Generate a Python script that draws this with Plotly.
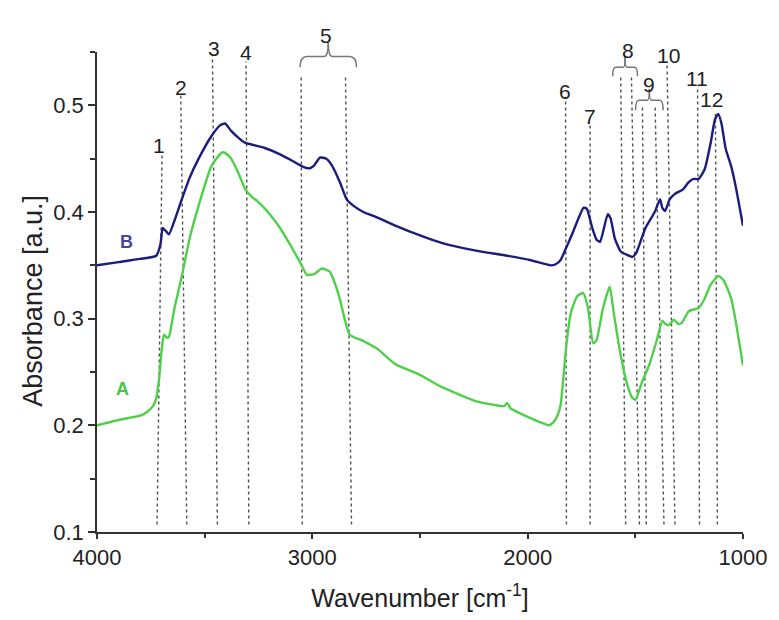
import plotly.graph_objects as go

# ---------------- data ----------------
wn_B = [4000, 3900, 3800, 3725, 3705, 3695, 3680, 3666, 3640, 3606, 3570, 3528, 3469, 3430, 3405,
        3377, 3340, 3313, 3221, 3160, 3102, 3040, 3011, 2990, 2965, 2935, 2910, 2870, 2841, 2810,
        2763, 2700, 2612, 2500, 2400, 2246, 2095, 1990, 1893, 1870, 1847, 1820, 1788, 1760, 1740,
        1725, 1700, 1680, 1664, 1648, 1628, 1615, 1595, 1568, 1540, 1513, 1495, 1453, 1410, 1385,
        1375, 1362, 1340, 1316, 1280, 1252, 1230, 1206, 1178, 1150, 1130, 1115, 1100, 1080, 1055,
        1030, 1000]
abs_B = [0.350, 0.353, 0.356, 0.359, 0.370, 0.385, 0.382, 0.379, 0.392, 0.412, 0.432, 0.450, 0.471, 0.481, 0.483,
         0.476, 0.469, 0.465, 0.460, 0.455, 0.449, 0.442, 0.441, 0.444, 0.451, 0.450, 0.444, 0.427, 0.412, 0.406,
         0.400, 0.395, 0.387, 0.378, 0.371, 0.364, 0.359, 0.355, 0.350, 0.351, 0.355, 0.367, 0.382, 0.396, 0.404,
         0.403, 0.385, 0.374, 0.372, 0.383, 0.398, 0.394, 0.375, 0.363, 0.360, 0.358, 0.362, 0.385, 0.400, 0.412,
         0.404, 0.401, 0.412, 0.417, 0.421, 0.428, 0.431, 0.431, 0.440, 0.465, 0.487, 0.492, 0.483, 0.459, 0.443,
         0.420, 0.387]

wn_A = [4000, 3900, 3800, 3771, 3740, 3725, 3711, 3700, 3689, 3675, 3666, 3640, 3606, 3570, 3528,
        3469, 3430, 3414, 3390, 3377, 3340, 3313, 3280, 3254, 3194, 3150, 3102, 3060, 3025, 2990,
        2956, 2919, 2895, 2873, 2850, 2827, 2763, 2700, 2612, 2507, 2400, 2246, 2150, 2110, 2095,
        2080, 2063, 2000, 1930, 1902, 1880, 1860, 1847, 1820, 1800, 1770, 1742, 1720, 1696, 1680,
        1650, 1619, 1600, 1570, 1540, 1515, 1499, 1470, 1435, 1400, 1375, 1360, 1344, 1321, 1300,
        1284, 1252, 1206, 1180, 1150, 1115, 1090, 1055, 1030, 1000]
abs_A = [0.200, 0.205, 0.209, 0.212, 0.218, 0.225, 0.245, 0.270, 0.285, 0.282, 0.283, 0.310, 0.340, 0.375, 0.406,
         0.443, 0.454, 0.456, 0.453, 0.450, 0.435, 0.422, 0.414, 0.410, 0.397, 0.385, 0.369, 0.354, 0.341, 0.342,
         0.347, 0.344, 0.333, 0.319, 0.300, 0.285, 0.279, 0.272, 0.257, 0.248, 0.236, 0.223, 0.219, 0.218, 0.221,
         0.216, 0.214, 0.208, 0.202, 0.200, 0.203, 0.210, 0.219, 0.276, 0.305, 0.321, 0.324, 0.310, 0.277, 0.280,
         0.310, 0.330, 0.305, 0.268, 0.240, 0.226, 0.224, 0.240, 0.257, 0.280, 0.298, 0.295, 0.294, 0.299, 0.295,
         0.296, 0.307, 0.310, 0.318, 0.332, 0.340, 0.336, 0.319, 0.293, 0.256]

# band marker lines: wavenumber at bottom, wavenumber at top, top absorbance
band_wn_bottom = [3721, 3583, 3441, 3295, 3047, 2818, 1820, 1710, 1545, 1481, 1449, 1367, 1316, 1202, 1119]
band_wn_top    = [3698, 3611, 3464, 3308, 3052, 2846, 1824, 1710, 1568, 1518, 1467, 1408, 1353, 1211, 1128]
band_top       = [0.453, 0.509, 0.546, 0.541, 0.529, 0.526, 0.508, 0.483, 0.527, 0.527, 0.498, 0.498, 0.541, 0.518, 0.492]
band_bottom = 0.107

# band labels: text, wavenumber, absorbance height
label_text = ["1", "2", "3", "4", "5", "6", "7", "8", "9", "10", "11", "12"]
label_wn   = [3711, 3611, 3455, 3308, 2937, 1825, 1710, 1536, 1435, 1344, 1215, 1147]
label_abs  = [0.475, 0.529, 0.566, 0.562, 0.578, 0.526, 0.502, 0.564, 0.532, 0.559, 0.538, 0.518]

# braces: left wn, right wn, end height, bar height, tip height (absorbance units)
brace_left  = [3057, 1605, 1499]
brace_right = [2795, 1490, 1371]
brace_end   = [0.5356, 0.5272, 0.4953]
brace_bar   = [0.5458, 0.5356, 0.5048]
brace_tip   = [0.5589, 0.5458, 0.5151]

Y_MIN, Y_MAX = 0.1, 0.55
X_MIN, X_MAX = 1000, 4000

def ypap(v):
    return (v - Y_MIN) / (Y_MAX - Y_MIN)

FONT = "Liberation Sans, Arial, sans-serif"
TXT = "#222222"

fig = go.Figure()
fig.add_trace(go.Scatter(x=wn_B, y=abs_B, mode="lines",
                         line=dict(color="#1c1c7c", width=2.4, shape="spline", smoothing=0.5),
                         showlegend=False, hoverinfo="skip"))
fig.add_trace(go.Scatter(x=wn_A, y=abs_A, mode="lines",
                         line=dict(color="#4fcf4a", width=2.4, shape="spline", smoothing=0.5),
                         showlegend=False, hoverinfo="skip"))

for xb, xt, yt in zip(band_wn_bottom, band_wn_top, band_top):
    fig.add_shape(type="line", xref="x", yref="y", x0=xb, y0=band_bottom, x1=xt, y1=yt,
                  line=dict(color="#505050", width=1.4, dash="3px,3px"), layer="below")

for l, r, ye, yb, yt in zip(brace_left, brace_right, brace_end, brace_bar, brace_tip):
    c = (l + r) / 2
    w = abs(l - r)
    k = w * 0.12 * (1 if l > r else -1)
    pe, pb, pt = ypap(ye), ypap(yb), ypap(yt)
    fig.add_shape(type="path", xref="x", yref="paper",
                  path=f"M {l},{pe} Q {l},{pb} {l-k},{pb} L {c+k*0.6},{pb} Q {c},{pb} {c},{pt}",
                  line=dict(color="#777777", width=1.5))
    fig.add_shape(type="path", xref="x", yref="paper",
                  path=f"M {r},{pe} Q {r},{pb} {r+k},{pb} L {c-k*0.6},{pb} Q {c},{pb} {c},{pt}",
                  line=dict(color="#777777", width=1.5))

for t, x, y in zip(label_text, label_wn, label_abs):
    fig.add_annotation(x=x, y=ypap(y), xref="x", yref="paper", text=t, showarrow=False,
                       font=dict(family=FONT, size=21, color=TXT))

fig.add_annotation(x=3862, y=ypap(0.372), xref="x", yref="paper", text="<b>B</b>", showarrow=False,
                   font=dict(family=FONT, size=18, color="#4747a3"))
fig.add_annotation(x=3881, y=ypap(0.223), xref="x", yref="paper", text="<b>A</b>", showarrow=False,
                   font=dict(family=FONT, size=18, color="#45c845"))

fig.add_annotation(x=-0.099, y=0.482, xref="paper", yref="paper", xanchor="center", yanchor="middle",
                   text="Absorbance [a.u.]", textangle=-90, showarrow=False,
                   font=dict(family=FONT, size=27, color=TXT))

# the page body adds an 8px margin, so the figure is 8px smaller with 8px less left/top margin
fig.update_layout(
    width=771, height=612,
    margin=dict(l=89, r=27, t=44, b=85),
    paper_bgcolor="white", plot_bgcolor="white",
    font=dict(family=FONT, color=TXT),
    xaxis=dict(range=[X_MAX, X_MIN], tickvals=[4000, 3000, 2000, 1000], ticks="outside", ticklen=5,
               tickwidth=1.5, tickcolor="#333333", showline=True, linecolor="#333333", linewidth=1.5,
               showgrid=False, zeroline=False, tickfont=dict(size=22, color=TXT),
               minor=dict(tickvals=[3500, 2500, 1500], ticks="outside", ticklen=4, tickcolor="#333333", tickwidth=1.5),
               title=dict(text="Wavenumber [cm<sup>-1</sup>]", font=dict(size=25, color=TXT), standoff=20)),
    yaxis=dict(range=[Y_MIN, Y_MAX], tickvals=[0.1, 0.2, 0.3, 0.4, 0.5],
               ticktext=["0.1", "0.2", "0.3", "0.4", "0.5"],
               ticks="outside", ticklen=7, tickwidth=1.5, tickcolor="#333333", showline=True, linecolor="#333333",
               linewidth=1.5, showgrid=False, zeroline=False, tickfont=dict(size=22, color=TXT),
               minor=dict(tickvals=[0.15, 0.25, 0.35, 0.45, 0.55], ticks="outside", ticklen=5,
                          tickcolor="#333333", tickwidth=1.5)),
)

fig.write_html("out.html")
